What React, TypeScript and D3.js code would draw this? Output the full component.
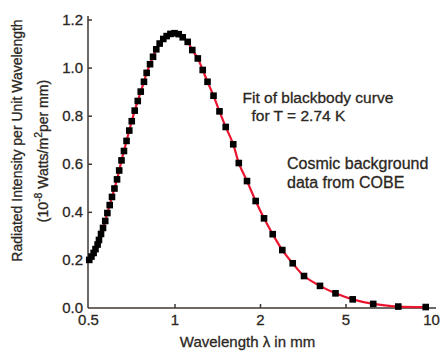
import React, { useEffect, useRef } from 'react';
import * as d3 from 'd3';

// COBE points: wavelength (mm) and intensity (1e-8 W/m^2 per mm)
const wavelengths = [
  0.505, 0.514, 0.523, 0.531, 0.540, 0.546, 0.555, 0.564, 0.574, 0.584,
  0.595, 0.606, 0.618, 0.631, 0.642, 0.654, 0.667, 0.681, 0.696, 0.710,
  0.727, 0.745, 0.763, 0.783, 0.800, 0.822, 0.842, 0.864, 0.888, 0.914,
  0.939, 0.968, 1.000, 1.035, 1.069, 1.113, 1.155, 1.208, 1.257, 1.307,
  1.372, 1.440, 1.515, 1.610, 1.684, 1.800, 1.931, 2.088, 2.292, 2.540,
  2.840, 3.205, 3.804, 4.492, 5.30, 6.26, 7.67, 9.58,
];
const intensities = [
  0.200, 0.214, 0.229, 0.245, 0.264, 0.283, 0.308, 0.333, 0.362, 0.395,
  0.428, 0.462, 0.497, 0.535, 0.572, 0.614, 0.653, 0.695, 0.738, 0.777,
  0.821, 0.861, 0.900, 0.941, 0.978, 1.014, 1.045, 1.076, 1.100, 1.119,
  1.131, 1.140, 1.143, 1.139, 1.126, 1.107, 1.073, 1.038, 0.990, 0.941,
  0.883, 0.818, 0.753, 0.681, 0.603, 0.528, 0.445, 0.373, 0.307, 0.241,
  0.186, 0.133, 0.092, 0.061, 0.036, 0.017, 0.006, 0.004,
];
const xTicks = [0.5, 1, 2, 5, 10];
const yTicks = [0, 0.2, 0.4, 0.6, 0.8, 1.0, 1.2];
const fitLabel = ["Fit of blackbody curve", "for T = 2.74 K"];
const dataLabel = ["Cosmic background", "data from COBE"];

const font = "'Liberation Sans', Arial, Helvetica, sans-serif";
const ink = "#2b2722";

const App = () => {
  const ref = useRef<SVGSVGElement>(null);

  useEffect(() => {
    const svg = d3.select(ref.current);
    svg.selectAll("*").remove();

    // tick marks 1-2-5-10 sit evenly apart, so a piecewise log scale
    const x = d3.scaleLog()
      .domain(xTicks)
      .range([88, 174.5, 260, 345.5, 431]);
    const y = d3.scaleLinear()
      .domain([0, 1.2])
      .range([308, 19.5]);

    svg.append("rect")
      .attr("width", 448).attr("height", 360).attr("fill", "#ffffff");

    // X axis
    const gx = svg.append("g")
      .attr("transform", "translate(0,308)")
      .call(d3.axisBottom(x).tickValues(xTicks).tickSizeInner(-4).tickSizeOuter(0)
        .tickPadding(6).tickFormat(d => String(d)));
    gx.select(".domain").attr("d", "M88,0H436");
    gx.selectAll(".tick").filter((d: any) => d === 0.5 || d === 10).select("line").remove();

    // Y axis
    const gy = svg.append("g")
      .attr("transform", "translate(88,0)")
      .call(d3.axisLeft(y).tickValues(yTicks).tickSizeInner(-4).tickSizeOuter(0)
        .tickPadding(5).tickFormat(d3.format(".1f")));
    gy.select(".domain").attr("d", "M0,16V308");
    gy.selectAll(".tick").filter((d: any) => d === 0).select("line").remove();

    svg.selectAll(".domain, .tick line")
      .attr("stroke", "#3e3730").attr("stroke-width", 1.5);
    svg.selectAll(".tick text")
      .attr("fill", ink)
      .attr("stroke", ink).attr("stroke-width", 0.3)
      .style("font-family", font).style("font-size", "15px");

    // fitted curve
    const pts: [number, number][] = wavelengths.map((w, i) => [w, intensities[i]]);
    const line = d3.line<[number, number]>()
      .x(d => x(d[0]))
      .y(d => y(d[1]))
      .curve(d3.curveCatmullRom);
    svg.append("path")
      .attr("d", line(pts))
      .attr("fill", "none")
      .attr("stroke", "#ec1530")
      .attr("stroke-width", 2.2);

    // data markers
    const s = 6.6;
    svg.append("g").selectAll("rect")
      .data(pts)
      .enter()
      .append("rect")
      .attr("x", d => x(d[0]) - s / 2)
      .attr("y", d => y(d[1]) - s / 2)
      .attr("width", s)
      .attr("height", s)
      .attr("fill", "#000");

    const txt = svg.append("g")
      .attr("fill", ink)
      .attr("stroke", ink)
      .attr("stroke-width", 0.3)
      .style("font-family", font);

    // axis titles
    txt.append("text")
      .attr("x", 247.5).attr("y", 347)
      .attr("text-anchor", "middle")
      .style("font-size", "15px")
      .text("Wavelength \u03bb in mm");

    txt.append("text")
      .attr("transform", "translate(22,140.5) rotate(-90)")
      .attr("text-anchor", "middle")
      .style("font-size", "14px")
      .text("Radiated Intensity per Unit Wavelength");

    const t2 = txt.append("text")
      .attr("transform", "translate(47.5,151) rotate(-90)")
      .attr("text-anchor", "middle")
      .style("font-size", "14px");
    t2.append("tspan").text("(10");
    t2.append("tspan").attr("dy", -6).style("font-size", "10.5px").text("-8");
    t2.append("tspan").attr("dy", 6).text(" Watts/m");
    t2.append("tspan").attr("dy", -6).style("font-size", "10.5px").text("2");
    t2.append("tspan").attr("dy", 6).text("per mm)");

    // annotations
    txt.append("text").attr("x", 242.5).attr("y", 103)
      .style("font-size", "15.5px").text(fitLabel[0]);
    txt.append("text").attr("x", 251.5).attr("y", 121)
      .style("font-size", "15.5px").text(fitLabel[1]);
    txt.append("text").attr("x", 287).attr("y", 168.5)
      .style("font-size", "16px").text(dataLabel[0]);
    txt.append("text").attr("x", 287).attr("y", 188)
      .style("font-size", "16px").text(dataLabel[1]);
  }, []);

  return (
    <svg
      ref={ref}
      width={448}
      height={360}
      style={{ position: 'absolute', left: 0, top: 0, display: 'block' }}
    />
  );
};

export default App;
